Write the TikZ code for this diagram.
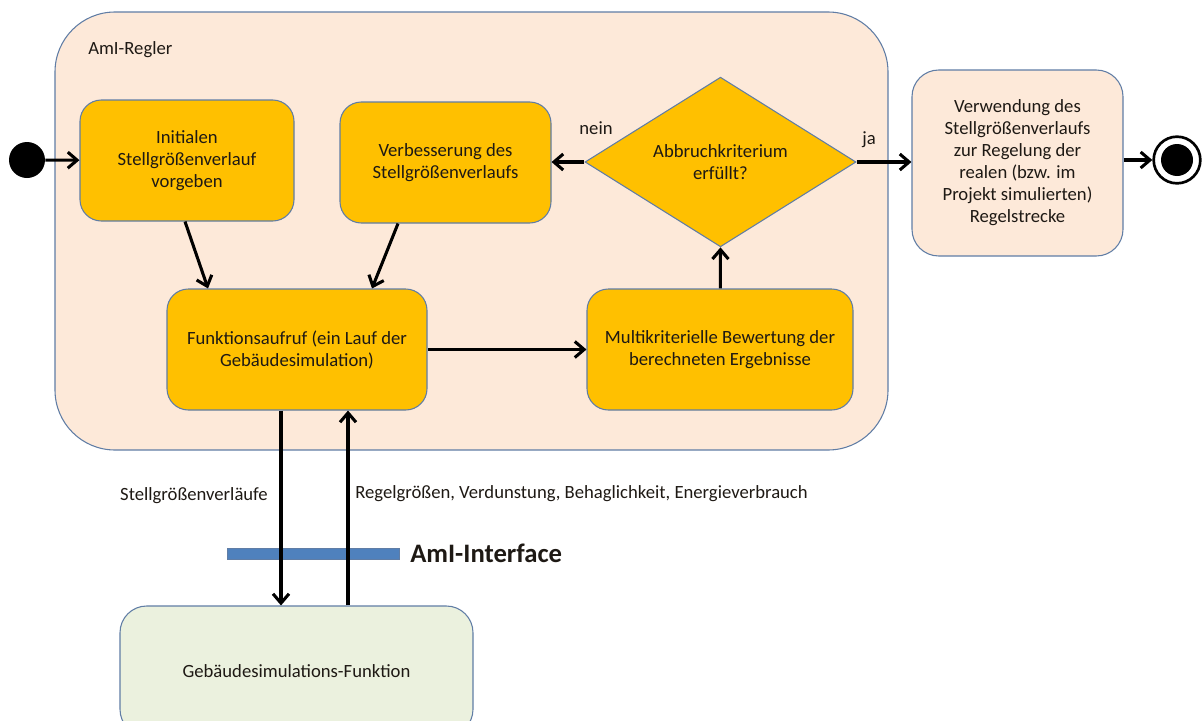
\documentclass[tikz,border=0pt]{standalone}
\usepackage{fontspec}
\setmainfont{Carlito}
\usetikzlibrary{arrows.meta,shapes.geometric,calc}
\definecolor{actfill}{RGB}{255,192,0}
\definecolor{regfill}{RGB}{253,233,217}
\definecolor{simfill}{RGB}{235,241,222}
\definecolor{edge}{RGB}{96,125,165}
\definecolor{barblue}{RGB}{79,129,189}
\definecolor{ink}{RGB}{30,25,20}
\tikzset{
  base/.style={draw=edge, line width=0.8pt, text=ink, align=center, inner sep=2pt,
    font=\fontsize{14}{16.5}\selectfont},
  action/.style={base, fill=actfill, rounded corners=16pt},
  decision/.style={base, fill=actfill, diamond, inner sep=0pt},
  outerbox/.style={draw=edge, line width=0.8pt, fill=regfill, rounded corners=45pt},
  usebox/.style={base, fill=regfill, rounded corners=20pt},
  simbox/.style={base, fill=simfill, rounded corners=20pt},
  flow/.style={line width=2.3pt, -{Straight Barb[length=7pt,width=12pt]}},
  lbl/.style={text=ink, font=\fontsize{14}{16}\selectfont, inner sep=0pt}
}
\begin{document}
\begin{tikzpicture}[x=0.75pt, y=-0.75pt]
\clip (0,0) rectangle (1203,721);
\useasboundingbox (0,0) rectangle (1203,721);

% controller container
\node[outerbox, minimum width=624.75pt, minimum height=328.5pt] (regler) at (471.5,231) {};
\node[lbl, anchor=west] (reglerlbl) at (88,50) {AmI-Regler};

% activities inside the controller
\node[action, minimum width=160.5pt, minimum height=90.75pt] (init) at (187,160.5)
  {Initialen\\Stellgrößenverlauf\\vorgeben};
\node[action, minimum width=158.25pt, minimum height=90.75pt] (improve) at (445.5,162.5)
  {Verbesserung des\\Stellgrößenverlaufs};
\node[decision, minimum width=203.25pt, minimum height=124.5pt] (stop) at (720.5,162)
  {Abbruchkriterium\\erfüllt?};
\node[action, minimum width=195pt, minimum height=90.75pt] (call) at (297,349.5)
  {Funktionsaufruf (ein Lauf der\\Gebäudesimulation)};
\node[action, minimum width=199.5pt, minimum height=90.75pt] (eval) at (720,349.5)
  {Multikriterielle Bewertung der\\berechneten Ergebnisse};

% result usage
\node[usebox, minimum width=158.25pt, minimum height=139.5pt] (use) at (1017.5,163)
  {Verwendung des\\Stellgrößenverlaufs\\zur Regelung der\\realen (bzw. im\\Projekt simulierten)\\Regelstrecke};

% building simulation function
\node[simbox, minimum width=264.75pt, minimum height=97.5pt] (sim) at (296.5,671)
  {Gebäudesimulations-Funktion};

% initial and final states
\node[circle, fill=black, minimum size=27pt, inner sep=0pt] (start) at (27,160) {};
\node[circle, draw=black, line width=2pt, fill=white, minimum size=35pt, inner sep=0pt] (final) at (1177,160) {};
\node[circle, fill=black, minimum size=24pt, inner sep=0pt] (finaldot) at (1177,160) {};

% interface bar
\node[draw=edge, line width=0.5pt, fill=barblue, minimum width=129pt, minimum height=8.5pt, inner sep=0pt] (bar) at (313,554) {};
\node[text=ink, anchor=west, inner sep=0pt, font=\fontsize{20}{24}\selectfont\bfseries] (barlbl) at (410,553) {AmI-Interface};

% control flow
\draw[flow] (start) -- (init);
\draw[flow] ($(init.south)+(-2,0)$) -- ($(call.north)+(-89,0)$);
\draw[flow] ($(improve.south)+(-47.5,0)$) -- ($(call.north)+(75,0)$);
\draw[flow] (call) -- (eval);
\draw[flow] (eval) -- (stop.south);
\draw[flow] (stop.west) -- (improve.east |- stop.west);
\draw[flow] (stop.east) -- (use.west |- stop.east);
\draw[flow] (use.east |- final) -- (final);

% data exchange with the simulation
\draw[flow] ($(call.south)+(-16,0)$) -- ($(sim.north)+(-15.5,0)$);
\draw[flow] ($(sim.north)+(51.5,0)$) -- ($(call.south)+(51,0)$);

% labels
\node[lbl] (nein) at (596,128) {nein};
\node[lbl] (ja) at (869,140) {ja};
\node[lbl] (stellv) at (194,496) {Stellgrößenverläufe};
\node[lbl, anchor=west] (regelv) at (355,494) {Regelgrößen, Verdunstung, Behaglichkeit, Energieverbrauch};
\end{tikzpicture}
\end{document}
